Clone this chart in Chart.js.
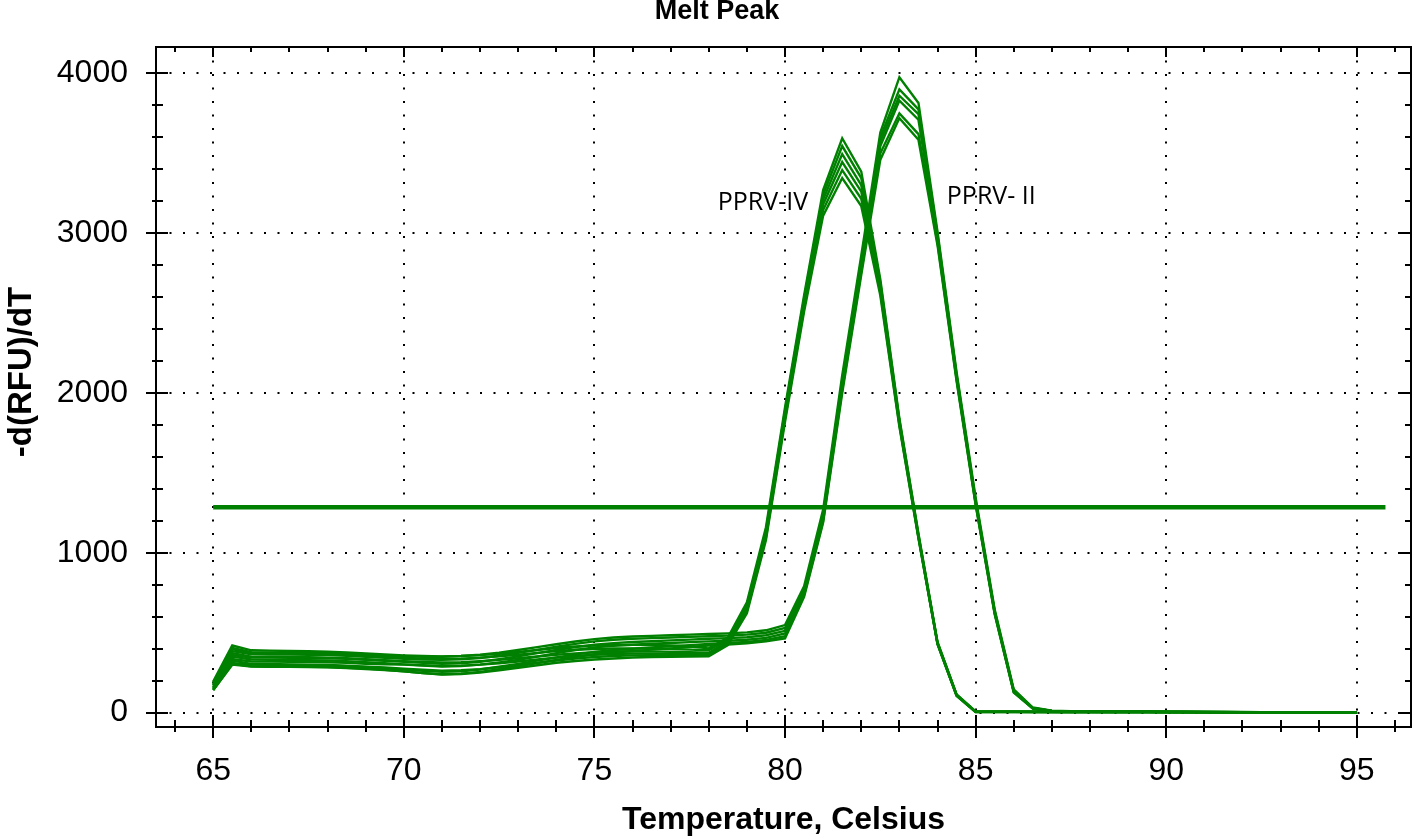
<!DOCTYPE html>
<html>
<head>
<meta charset="utf-8">
<title>Melt Peak</title>
<script src="https://cdn.jsdelivr.net/npm/chart.js@4/dist/chart.umd.min.js"></script>
<style>
  html, body { margin: 0; padding: 0; background: #fff; }
  #wrap { width: 1416px; height: 839px; position: relative; }
</style>
</head>
<body>
<div id="wrap"><canvas id="meltChart"></canvas></div>
<script>
// temperature steps (Celsius)
const temps = [65,65.5,66,66.5,67,67.5,68,68.5,69,69.5,70,70.5,71,71.5,72,72.5,73,73.5,74,74.5,
  75,75.5,76,76.5,77,77.5,78,78.5,79,79.5,80,80.5,81,81.5,82,82.5,83,83.5,84,84.5,
  85,85.5,86,86.5,87,87.5,88,88.5,89,89.5,90,90.5,91,91.5,92,92.5,93,93.5,94,94.5,95];

// PPRV-IV wells (peak ~81.5)
const pprv4_1 = [195,420,390,388,386,384,381,376,370,364, 358,354,352,354,360,368,380,392,404,414,
  420,423,424,423,420,414,402,470,690,1160, 1910,2610,3270,3594,3385,2710,1840,1120,442,114,
  7,6,6,5,5,5,5,4,4,4, 4,3,3,3,3,3,2,2,2,2,2];
const pprv4_2 = [185,398,372,371,370,368,366,362,356,350, 343,338,336,338,344,352,362,374,385,393,
  398,401,402,400,398,394,390,460,675,1140, 1890,2590,3240,3545,3345,2690,1830,1112,438,112,
  6,6,5,5,5,4,4,4,4,3, 3,3,3,3,2,2,2,2,2,2,2];
const pprv4_3 = [170,372,350,349,348,346,344,340,334,328, 322,317,314,316,322,330,340,351,362,371,
  378,382,384,383,380,378,375,448,660,1125, 1870,2570,3210,3495,3300,2670,1820,1105,435,110,
  5,5,5,5,4,4,4,4,3,3, 3,3,3,3,2,2,2,2,2,2,2];
const pprv4_4 = [160,350,332,331,330,328,326,322,316,309, 302,296,292,294,300,309,320,332,344,354,
  362,367,370,370,368,366,365,438,648,1110, 1855,2550,3180,3445,3260,2650,1810,1100,432,108,
  5,5,5,4,4,4,4,3,3,3, 3,3,3,2,2,2,2,2,2,2,2];
const pprv4_5 = [150,325,305,304,302,300,298,294,288,282, 275,268,262,265,272,284,298,312,326,338,
  348,354,358,359,358,358,358,430,635,1095, 1840,2530,3145,3395,3215,2630,1800,1095,430,106,
  4,4,4,4,4,4,3,3,3,3, 3,3,3,2,2,2,2,2,2,2,2];
const pprv4_6 = [142,305,290,289,288,287,285,281,275,268, 258,247,238,242,250,264,280,296,312,323,
  332,339,345,348,350,351,352,422,622,1080, 1820,2510,3110,3345,3170,2610,1790,1090,428,105,
  4,4,4,4,3,3,3,3,3,3, 3,2,2,2,2,2,2,2,2,2,2];

// PPRV-II wells (peak ~83)
const pprv2_1 = [180,405,378,376,375,374,372,368,362,357, 352,350,350,354,362,375,392,410,428,445,
  460,470,476,480,484,488,492,496,502,515, 548,790,1270,2110,2860,3630,3976,3815,3010,2130,
  1345,645,145,32,12,9,8,7,6,6, 5,5,4,4,4,3,3,3,3,2,2];
const pprv2_2 = [160,385,365,364,363,362,360,356,350,343, 336,332,331,334,342,356,374,393,412,430,
  446,456,462,466,470,474,478,482,488,500, 530,770,1245,2080,2830,3600,3900,3775,2990,2115,
  1330,635,138,30,11,9,8,7,6,5, 5,5,4,4,3,3,3,3,2,2,2];
const pprv2_3 = [170,360,345,344,343,342,340,336,331,325, 318,311,305,308,318,334,352,372,392,410,
  425,435,442,447,452,457,462,466,472,484, 512,760,1230,2060,2810,3575,3860,3745,2975,2105,
  1320,630,135,28,10,8,7,6,6,5, 5,4,4,4,3,3,3,3,2,2,2];
const pprv2_4 = [150,335,320,319,318,317,315,311,306,303, 300,294,288,291,300,314,330,350,372,392,
  408,418,425,431,436,441,446,450,456,468, 495,748,1215,2040,2790,3545,3830,3710,2960,2095,
  1315,625,132,27,10,8,7,6,5,5, 4,4,4,3,3,3,3,2,2,2,2];
const pprv2_5 = [145,310,300,299,298,297,295,291,285,278, 270,262,255,258,270,287,305,325,345,363,
  380,392,400,408,415,422,430,436,442,455, 478,735,1200,2020,2760,3500,3750,3620,2940,2085,
  1305,620,128,26,9,8,7,6,5,5, 4,4,4,3,3,3,3,2,2,2,2];
const pprv2_6 = [140,300,288,287,286,285,283,279,273,266, 258,248,240,244,255,272,290,310,330,348,
  365,376,385,394,402,411,420,426,434,446, 465,725,1190,2000,2740,3460,3720,3585,2925,2075,
  1300,615,125,25,9,7,6,6,5,5, 4,4,3,3,3,3,2,2,2,2,2];

// threshold line
const thresholdTemps = [65, 95.75];
const thresholdValues = [1285, 1285];

const xTickLabels = [65, 70, 75, 80, 85, 90, 95];
const yTickLabels = [0, 1000, 2000, 3000, 4000];

const wells = [pprv4_1, pprv4_2, pprv4_3, pprv4_4, pprv4_5, pprv4_6,
               pprv2_1, pprv2_2, pprv2_3, pprv2_4, pprv2_5, pprv2_6];
const GREEN = '#008000';

const datasets = wells.map(w => ({
  data: temps.map((t, i) => ({ x: t, y: w[i] })),
  borderColor: GREEN,
  borderWidth: 2.4,
  pointRadius: 0,
  tension: 0,
  fill: false
}));
datasets.push({
  data: thresholdTemps.map((t, i) => ({ x: t, y: thresholdValues[i] })),
  borderColor: GREEN,
  borderWidth: 4.5,
  pointRadius: 0,
  fill: false
});

const near = (v, n) => Math.abs(v / n - Math.round(v / n)) < 1e-6;

// dotted grid, boxed frame with ticks, and the text around it
const frame = {
  id: 'frame',
  beforeDatasetsDraw(chart) {
    const { ctx, chartArea: a, scales: { x, y } } = chart;
    ctx.save();
    ctx.strokeStyle = '#000';
    ctx.lineWidth = 2;
    ctx.setLineDash([2, 11.5]);
    xTickLabels.forEach(v => {
      const px = Math.round(x.getPixelForValue(v));
      ctx.beginPath(); ctx.moveTo(px, a.top); ctx.lineTo(px, a.bottom); ctx.stroke();
    });
    yTickLabels.forEach(v => {
      const py = Math.round(y.getPixelForValue(v));
      ctx.beginPath(); ctx.moveTo(a.left, py); ctx.lineTo(a.right, py); ctx.stroke();
    });
    ctx.restore();
  },
  afterDatasetsDraw(chart) {
    const { ctx, chartArea: a, scales: { x, y } } = chart;
    ctx.save();
    ctx.strokeStyle = '#000';
    ctx.lineWidth = 2;
    ctx.strokeRect(a.left, a.top, a.right - a.left, a.bottom - a.top);
    ctx.beginPath();
    x.ticks.forEach(t => {
      if (!near(t.value, 1)) return;
      const px = Math.round(x.getPixelForValue(t.value));
      const major = near(t.value, 5);
      ctx.moveTo(px, a.bottom - (major ? 12 : 7)); ctx.lineTo(px, a.bottom + (major ? 11 : 5));
      ctx.moveTo(px, a.top); ctx.lineTo(px, a.top + (major ? 10 : 5));
    });
    y.ticks.forEach(t => {
      if (!near(t.value, 200)) return;
      const py = Math.round(y.getPixelForValue(t.value));
      const major = near(t.value, 1000);
      ctx.moveTo(a.left - (major ? 10 : 4), py); ctx.lineTo(a.left + (major ? 12 : 7), py);
      ctx.moveTo(a.right - (major ? 12 : 6), py); ctx.lineTo(a.right, py);
    });
    ctx.stroke();

    ctx.fillStyle = '#000';
    ctx.font = '25px "Open Sans"';
    ctx.textAlign = 'center';
    ctx.textBaseline = 'middle';
    ctx.fillText('PPRV-IV', x.getPixelForValue(79.42), y.getPixelForValue(3189));
    ctx.fillText('PPRV- II', x.getPixelForValue(85.41), y.getPixelForValue(3227));
    ctx.restore();
  },
  afterDraw(chart) {
    const { ctx, chartArea: a } = chart;
    ctx.save();
    ctx.fillStyle = '#000';
    ctx.textAlign = 'center';
    ctx.textBaseline = 'middle';
    ctx.font = 'bold 27px "Liberation Sans", Arial, sans-serif';
    ctx.fillText('Melt Peak', 717, 12);
    ctx.font = 'bold 32px "Liberation Sans", Arial, sans-serif';
    ctx.fillText('Temperature, Celsius', (a.left + a.right) / 2, 820);
    ctx.font = 'bold 33px "Liberation Sans", Arial, sans-serif';
    ctx.translate(22, 372);
    ctx.rotate(-Math.PI / 2);
    ctx.fillText('-d(RFU)/dT', 0, 0);
    ctx.restore();
  }
};

const tickFont = { family: '"Liberation Sans", Arial, sans-serif', size: 32 };

const ctx = document.getElementById('meltChart').getContext('2d');
new Chart(ctx, {
  type: 'line',
  data: { datasets: datasets },
  options: {
    responsive: true,
    maintainAspectRatio: false,
    animation: false,
    layout: { padding: { top: 47, right: 5, left: 0, bottom: 0 } },
    plugins: { legend: { display: false }, tooltip: { enabled: false }, title: { display: false } },
    scales: {
      x: {
        type: 'linear',
        min: 63.5,
        max: 96.42,
        grid: { display: false },
        border: { display: false },
        afterFit: s => { s.height = 112; s.paddingLeft = 0; s.paddingRight = 0; },
        ticks: {
          stepSize: 1,
          includeBounds: false,
          autoSkip: false,
          maxRotation: 0,
          padding: 17,
          color: '#000',
          font: tickFont,
          callback: v => xTickLabels.includes(v) ? String(v) : ''
        }
      },
      y: {
        min: -90,
        max: 4165,
        grid: { display: false },
        border: { display: false },
        afterFit: s => { s.width = 156; s.paddingTop = 0; s.paddingBottom = 0; },
        ticks: {
          stepSize: 200,
          includeBounds: false,
          autoSkip: false,
          padding: 20,
          color: '#000',
          font: tickFont,
          callback: v => yTickLabels.includes(v) ? String(v) : ''
        }
      }
    }
  },
  plugins: [frame]
});
</script>
</body>
</html>
